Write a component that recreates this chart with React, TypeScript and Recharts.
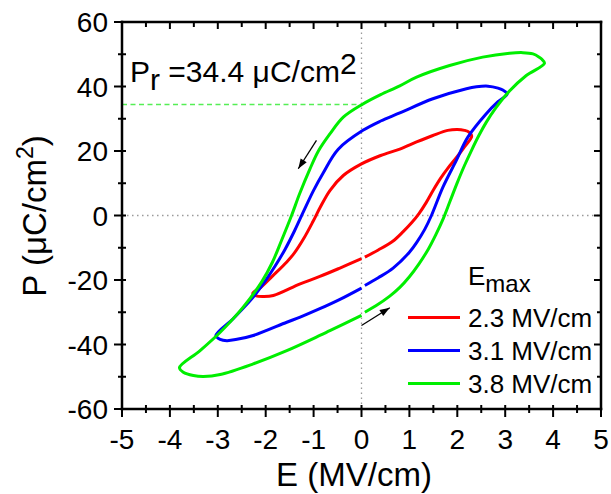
import React from 'react';
import { LineChart, Line, XAxis, YAxis, ReferenceLine, Customized } from 'recharts';

const FONT = '"Liberation Sans", Arial, Helvetica, sans-serif';

// axis ticks (majors are integers / multiples of 20, minors in between)
const xTicks = [-5, -4.5, -4, -3.5, -3, -2.5, -2, -1.5, -1, -0.5, 0, 0.5, 1, 1.5, 2, 2.5, 3, 3.5, 4, 4.5, 5];
const yTicks = [-60, -50, -40, -30, -20, -10, 0, 10, 20, 30, 40, 50, 60];
const xMajor = [-5, -4, -3, -2, -1, 0, 1, 2, 3, 4, 5];
const yMajor = [-60, -40, -20, 0, 20, 40, 60];

// E_max = 2.3 MV/cm
const redE = [0.07, 0.35, 0.66, 0.87, 1.05, 1.2, 1.35, 1.5, 1.65, 1.8, 2.0, 2.15, 2.3, 2.25, 2.15, 2.0, 1.8, 1.49, 1.15, 0.8, 0.4, 0.0, -0.38, -0.66, -0.87, -1.01, -1.2, -1.4, -1.56, -1.88, -2.1, -2.27, -2.2, -2.05, -1.84, -1.28, -0.87, -0.45, 0.0];
const redP = [-12.9, -10.7, -7.9, -5.0, -2.2, 0.6, 4.0, 7.9, 11.5, 14.6, 18.3, 21.3, 24.6, 25.8, 26.4, 26.7, 26.4, 24.8, 22.8, 20.6, 18.6, 16.0, 12.4, 7.75, 2.3, -1.8, -7.0, -11.6, -14.4, -19.1, -22.3, -24.1, -24.9, -25.1, -24.8, -21.2, -18.9, -16.3, -13.4];

// E_max = 3.1 MV/cm
const blueE = [0.07, 0.35, 0.66, 1.0, 1.15, 1.32, 1.46, 1.7, 1.98, 2.22, 2.6, 2.85, 3.04, 2.95, 2.85, 2.64, 2.4, 2.19, 1.49, 0.8, 0.4, 0.03, -0.49, -0.8, -1.0, -1.2, -1.4, -1.6, -1.8, -2.0, -2.26, -2.68, -3.04, -2.95, -2.81, -2.6, -2.26, -1.56, -1.28, -0.87, -0.45, 0.0];
const blueP = [-21.7, -19.3, -16.3, -11.4, -8.4, -4.3, 0.0, 8.8, 17.1, 24.3, 31.5, 35.3, 37.7, 38.9, 39.5, 40.1, 39.9, 39.3, 36.2, 31.8, 29.3, 26.4, 20.5, 13.2, 7.8, 1.6, -4.8, -10.6, -15.6, -20.1, -25.3, -32.0, -37.2, -38.4, -38.8, -38.4, -37.2, -33.1, -31.5, -28.9, -26.0, -22.5];

// E_max = 3.8 MV/cm
const greenE = [0.07, 0.3, 0.59, 0.8, 1.0, 1.2, 1.4, 1.55, 1.7, 1.85, 2.0, 2.15, 2.3, 2.45, 2.6, 2.8, 3.09, 3.44, 3.82, 3.76, 3.71, 3.58, 3.37, 3.09, 2.53, 1.84, 1.15, 0.8, 0.4, 0.03, -0.38, -0.66, -0.9, -1.08, -1.29, -1.46, -1.67, -1.86, -2.08, -2.47, -2.95, -3.37, -3.8, -3.72, -3.51, -3.3, -2.95, -2.26, -1.56, -0.87, -0.66, 0.0];
const greenP = [-30.0, -28.0, -25.0, -22.3, -19.0, -15.0, -10.3, -6.0, -1.2, 4.5, 10.2, 15.5, 20.3, 24.8, 28.8, 33.3, 38.6, 43.4, 47.2, 48.5, 49.1, 50.1, 50.5, 50.3, 49.1, 46.5, 42.9, 40.2, 37.5, 34.6, 30.5, 25.3, 20.0, 14.3, 6.8, 0.0, -7.75, -14.5, -20.5, -28.4, -36.2, -41.9, -47.2, -48.6, -49.6, -49.9, -49.3, -46.0, -41.9, -37.2, -35.7, -31.0];

const prValue = 34.4;
const prLineE = [-5, 0];

const arrow1E = [-0.94, -1.32];
const arrow1P = [23.3, 14.5];
const arrow2E = [0.0, 0.59];
const arrow2P = [-34.1, -28.6];

const toRows = (E: number[], P: number[]) => E.map((e, i) => ({ E: e, P: P[i] }));

const series = [
  { name: '2.3 MV/cm', color: '#ff0000', data: toRows(redE, redP) },
  { name: '3.1 MV/cm', color: '#0000ff', data: toRows(blueE, blueP) },
  { name: '3.8 MV/cm', color: '#00ee00', data: toRows(greenE, greenP) },
];

const prRows = toRows(prLineE, prLineE.map(() => prValue));
const arrow1Rows = toRows(arrow1E, arrow1P);
const arrow2Rows = toRows(arrow2E, arrow2P);

// centripetal Catmull-Rom curve factory (passes through points, no overshoot loops)
const catmullRom = (context: any) => {
  let pts: number[][] = [];
  return {
    areaStart() {},
    areaEnd() {},
    lineStart() {
      pts = [];
    },
    point(x: number, y: number) {
      pts.push([+x, +y]);
    },
    lineEnd() {
      const n = pts.length;
      if (!n) return;
      context.moveTo(pts[0][0], pts[0][1]);
      for (let i = 0; i < n - 1; i++) {
        const p0 = pts[i - 1] || pts[i];
        const p1 = pts[i];
        const p2 = pts[i + 1];
        const p3 = pts[i + 2] || pts[i + 1];
        const l01 = Math.hypot(p1[0] - p0[0], p1[1] - p0[1]);
        const l12 = Math.hypot(p2[0] - p1[0], p2[1] - p1[1]);
        const l23 = Math.hypot(p3[0] - p2[0], p3[1] - p2[1]);
        const d1 = Math.sqrt(l01);
        const d2 = Math.sqrt(l12);
        const d3 = Math.sqrt(l23);
        let c1x = p1[0];
        let c1y = p1[1];
        let c2x = p2[0];
        let c2y = p2[1];
        if (d1 > 1e-6 && d2 > 1e-6) {
          const a = 2 * l01 + 3 * d1 * d2 + l12;
          const m = 3 * d1 * (d1 + d2);
          c1x = (l01 * p2[0] - l12 * p0[0] + a * p1[0]) / m;
          c1y = (l01 * p2[1] - l12 * p0[1] + a * p1[1]) / m;
        }
        if (d3 > 1e-6 && d2 > 1e-6) {
          const b = 2 * l23 + 3 * d3 * d2 + l12;
          const m = 3 * d3 * (d3 + d2);
          c2x = (l23 * p1[0] - l12 * p3[0] + b * p2[0]) / m;
          c2y = (l23 * p1[1] - l12 * p3[1] + b * p2[1]) / m;
        }
        context.bezierCurveTo(c1x, c1y, c2x, c2y, p2[0], p2[1]);
      }
    },
  };
};

const BottomTick = (props: any) => {
  const { x, y, payload } = props;
  const v = payload.value;
  const major = xMajor.includes(v);
  return (
    <g>
      <line x1={x} x2={x} y1={y - 4} y2={y + (major ? 8 : 4)} stroke="#000" strokeWidth={2} />
      {major && (
        <text x={x} y={y + 40} textAnchor="middle" fontSize={28} fontFamily={FONT} fill="#000">
          {String(v)}
        </text>
      )}
    </g>
  );
};

const LeftTick = (props: any) => {
  const { x, y, payload } = props;
  const v = payload.value;
  const major = yMajor.includes(v);
  return (
    <g>
      <line x1={x - (major ? 8 : 4)} x2={x + 4} y1={y} y2={y} stroke="#000" strokeWidth={2} />
      {major && (
        <text x={x - 14} y={y + 10} textAnchor="end" fontSize={28} fontFamily={FONT} fill="#000">
          {String(v)}
        </text>
      )}
    </g>
  );
};

const TopTick = (props: any) => {
  const { x, y, payload } = props;
  const major = xMajor.includes(payload.value);
  return <line x1={x} x2={x} y1={y} y2={y + (major ? 7 : 5)} stroke="#000" strokeWidth={2} />;
};

const RightTick = (props: any) => {
  const { x, y, payload } = props;
  const major = yMajor.includes(payload.value);
  return <line x1={x} x2={x - (major ? 7 : 4)} y1={y} y2={y} stroke="#000" strokeWidth={2} />;
};

const ArrowHead = (props: any) => {
  const { cx, cy, index, points } = props;
  if (index !== 1 || !points || points.length < 2) return <g key={`a${index}`} />;
  const p0 = points[0];
  const ang = Math.atan2(cy - p0.y, cx - p0.x);
  const L = 10;
  const Wd = 3.6;
  const bx = cx - L * Math.cos(ang);
  const by = cy - L * Math.sin(ang);
  const px = -Math.sin(ang) * Wd;
  const py = Math.cos(ang) * Wd;
  return (
    <polygon
      key={`a${index}`}
      points={`${cx},${cy} ${bx + px},${by + py} ${bx - px},${by - py}`}
      fill="#000"
      stroke="none"
    />
  );
};

const Overlay = () => (
  <g fontFamily={FONT} fill="#000">
    {/* remanent polarization annotation */}
    <text x={130} y={82} fontSize={30}>
      P<tspan dy={8}>r</tspan>
      <tspan dy={-8}> =34.4 μC/cm</tspan>
      <tspan dy={-8}>2</tspan>
    </text>
    {/* legend */}
    <text x={468} y={285} fontSize={26}>
      E<tspan dy={7} fontSize={24}>max</tspan>
    </text>
    {series.map((s, i) => {
      const yy = 317.5 + i * 33;
      return (
        <g key={s.name}>
          <line x1={408} x2={460} y1={yy} y2={yy} stroke={s.color} strokeWidth={3} />
          <text x={468} y={yy + 9.5} fontSize={26}>
            {s.name}
          </text>
        </g>
      );
    })}
    {/* axis titles */}
    <text x={354} y={486} fontSize={33} textAnchor="middle">
      E (MV/cm)
    </text>
    <text x={46} y={216} fontSize={33} textAnchor="middle" transform="rotate(-90 46 216)">
      P (μC/cm<tspan dy={-13} fontSize={23}>2</tspan>
      <tspan dy={13}>)</tspan>
    </text>
  </g>
);

export default function App() {
  return (
    <div style={{ position: 'absolute', left: 0, top: 0, width: 611, height: 494, background: '#fff' }}>
      <LineChart width={611} height={494} margin={{ top: 0, right: 0, bottom: 0, left: 0 }}>
        <XAxis
          xAxisId="b"
          type="number"
          dataKey="E"
          domain={[-5, 5]}
          ticks={xTicks}
          interval={0}
          allowDataOverflow
          height={85}
          orientation="bottom"
          tickSize={0}
          tickMargin={0}
          tick={<BottomTick />}
          tickLine={false}
          axisLine={{ stroke: '#000', strokeWidth: 2.5, strokeLinecap: 'square' }}
        />
        <XAxis
          xAxisId="t"
          type="number"
          dataKey="E"
          domain={[-5, 5]}
          ticks={xTicks}
          interval={0}
          allowDataOverflow
          height={22}
          orientation="top"
          tickSize={0}
          tickMargin={0}
          tick={<TopTick />}
          tickLine={false}
          axisLine={{ stroke: '#000', strokeWidth: 2.5, strokeLinecap: 'square' }}
        />
        <YAxis
          yAxisId="l"
          type="number"
          domain={[-60, 60]}
          ticks={yTicks}
          interval={0}
          allowDataOverflow
          width={122}
          orientation="left"
          tickSize={0}
          tickMargin={0}
          tick={<LeftTick />}
          tickLine={false}
          axisLine={{ stroke: '#000', strokeWidth: 2.5, strokeLinecap: 'square' }}
        />
        <YAxis
          yAxisId="r"
          type="number"
          domain={[-60, 60]}
          ticks={yTicks}
          interval={0}
          allowDataOverflow
          width={10}
          orientation="right"
          tickSize={0}
          tickMargin={0}
          tick={<RightTick />}
          tickLine={false}
          axisLine={{ stroke: '#000', strokeWidth: 2.5, strokeLinecap: 'square' }}
        />
        <ReferenceLine xAxisId="b" yAxisId="l" x={0} stroke="#9a9a9a" strokeWidth={1.3} strokeDasharray="1.5 3.5" />
        <ReferenceLine xAxisId="b" yAxisId="l" y={0} stroke="#9a9a9a" strokeWidth={1.3} strokeDasharray="1.5 3.5" />
        <Line
          xAxisId="b"
          yAxisId="l"
          data={prRows}
          dataKey="P"
          type="linear"
          stroke="#55ee55"
          strokeWidth={1.5}
          strokeDasharray="5 3.5"
          dot={false}
          isAnimationActive={false}
        />
        {series.map((s) => (
          <Line
            key={s.name}
            xAxisId="b"
            yAxisId="l"
            data={s.data}
            dataKey="P"
            name={s.name}
            type={catmullRom as any}
            stroke={s.color}
            strokeWidth={3}
            dot={false}
            isAnimationActive={false}
          />
        ))}
        <Line
          xAxisId="b"
          yAxisId="l"
          data={arrow1Rows}
          dataKey="P"
          type="linear"
          stroke="#000"
          strokeWidth={1.3}
          dot={<ArrowHead />}
          isAnimationActive={false}
        />
        <Line
          xAxisId="b"
          yAxisId="l"
          data={arrow2Rows}
          dataKey="P"
          type="linear"
          stroke="#000"
          strokeWidth={1.3}
          dot={<ArrowHead />}
          isAnimationActive={false}
        />
        <Customized component={Overlay} />
      </LineChart>
    </div>
  );
}
